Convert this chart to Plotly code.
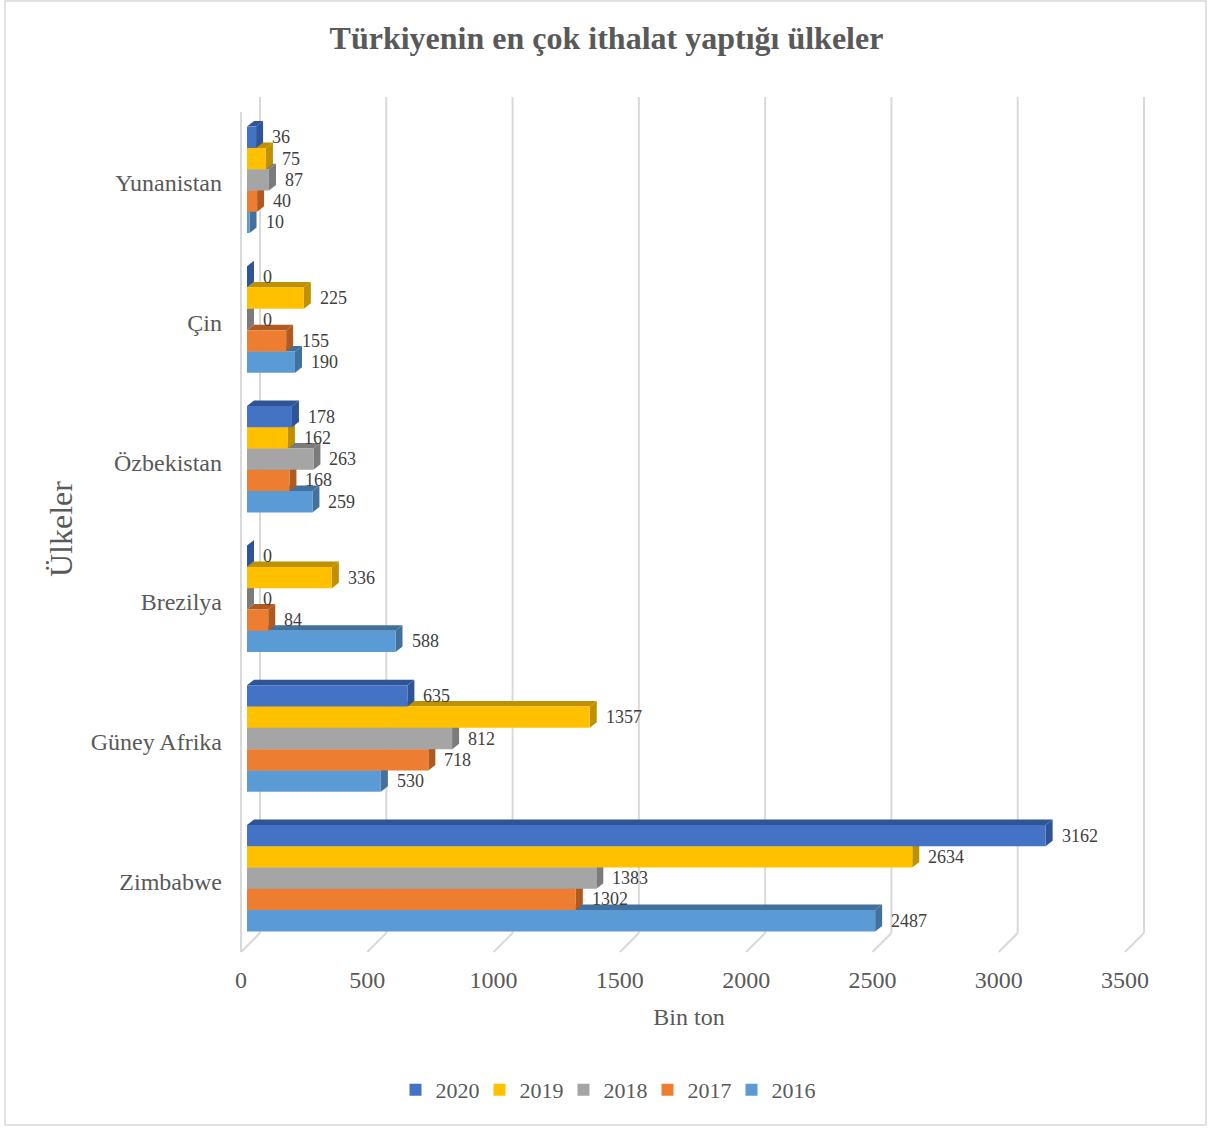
import plotly.graph_objects as go

# ---- data -----------------------------------------------------------------
countries = ["Zimbabwe", "Güney Afrika", "Brezilya", "Özbekistan", "Çin", "Yunanistan"]
years = ["2016", "2017", "2018", "2019", "2020"]
v2016 = [2487, 530, 588, 259, 190, 10]
v2017 = [1302, 718, 84, 168, 155, 40]
v2018 = [1383, 812, 0, 263, 0, 87]
v2019 = [2634, 1357, 336, 162, 225, 75]
v2020 = [3162, 635, 0, 178, 0, 36]
x_ticks = [0, 500, 1000, 1500, 2000, 2500, 3000, 3500]

series = [v2016, v2017, v2018, v2019, v2020]
front_colors = ["#5B9BD5", "#ED7D31", "#A5A5A5", "#FFC000", "#4472C4"]
shade_colors = ["#41719C", "#AE5A21", "#7B7B7B", "#BF9000", "#2F5597"]

# ---- geometry --------------------------------------------------------------
W, H = 1221, 1128
M_L, M_R, M_T, M_B = 247, 90, 110, 180
plot_w = W - M_L - M_R
plot_h = H - M_T - M_B
x_max = 3500
bargap = 0.238
n_series = len(series)
bar_w = (1 - bargap) / n_series
depth_px_x = 7          # 3D depth of bar faces, pixels to the right
depth_px_y = 5.5        # 3D depth of bar faces, pixels upward
depth_y = depth_px_y / (plot_h / len(countries))
depth_x = depth_px_x / (plot_w / x_max)

SERIF = "Liberation Serif, Times New Roman, serif"
TEXT = "#595959"
GRID = "#D9D9D9"

fig = go.Figure()
for k, (yr, vals) in enumerate(zip(years, series)):
    fig.add_trace(go.Bar(
        y=countries, x=vals, name=yr, orientation="h",
        marker=dict(color=front_colors[k], line=dict(width=0)),
        hoverinfo="x+name",
    ))

shapes = []
# back-wall gridlines with a short floor segment (paper refs keep them unclipped)
for t in x_ticks:
    path = "M 13,15 L 13,851 M 13,15 L -6,-4"
    if t == 0:
        path += " M -6,-4 L -6,836"
    shapes.append(dict(
        type="path", xref="paper", yref="paper",
        xsizemode="pixel", xanchor=t / x_max, ysizemode="pixel", yanchor=0,
        path=path, line=dict(color=GRID, width=2), layer="below",
    ))

annotations = []
for k, vals in enumerate(series):
    off = -(1 - bargap) / 2 + bar_w * (k + 0.5)
    for i, v in enumerate(vals):
        yc = i + off
        yb, yt = yc - bar_w / 2, yc + bar_w / 2
        # top face
        shapes.append(dict(
            type="path", xref="x", yref="y", layer="below",
            path=f"M 0,{yt} L {v},{yt} L {v + depth_x},{yt + depth_y} L {depth_x},{yt + depth_y} Z",
            fillcolor=shade_colors[k], line=dict(width=0),
        ))
        # side face
        shapes.append(dict(
            type="path", xref="x", yref="y", layer="below",
            xsizemode="pixel", xanchor=v,
            path=f"M 0,{yb} L {depth_px_x},{yb + depth_y} L {depth_px_x},{yt + depth_y} L 0,{yt} Z",
            fillcolor=shade_colors[k], line=dict(width=0),
        ))
        annotations.append(dict(
            x=v, y=yc, xref="x", yref="y", text=str(v), showarrow=False,
            xanchor="left", yanchor="middle", xshift=14,
            font=dict(family=SERIF, size=18, color="#404040"),
        ))

# outer chart border
shapes.append(dict(
    type="rect", xref="paper", yref="paper",
    x0=(5 - M_L) / plot_w, x1=(1206 - M_L) / plot_w,
    y0=1 - (1125 - M_T) / plot_h, y1=1 - (1 - M_T) / plot_h,
    line=dict(color=GRID, width=1.5), fillcolor="rgba(0,0,0,0)", layer="below",
))

fig.update_layout(
    width=W, height=H,
    margin=dict(l=M_L, r=M_R, t=M_T, b=M_B),
    paper_bgcolor="white", plot_bgcolor="white",
    barmode="group", bargap=bargap, bargroupgap=0,
    font=dict(family=SERIF, color=TEXT),
    title=dict(
        text="Türkiyenin en çok ithalat yaptığı ülkeler",
        font=dict(family=SERIF, size=32, color=TEXT, weight="bold"),
        xref="container", x=0.5 - 4 / W, xanchor="center",
        yref="container", y=1 - 38 / H, yanchor="middle",
    ),
    xaxis=dict(
        range=[0, x_max], tickvals=x_ticks, showgrid=False, zeroline=False,
        showline=False, ticks="", ticklabelshift=-6, ticklabelstandoff=15,
        tickfont=dict(family=SERIF, size=24, color=TEXT),
        title=dict(text="Bin ton", font=dict(family=SERIF, size=24, color=TEXT), standoff=16),
        automargin=False, fixedrange=True,
    ),
    yaxis=dict(
        type="category", categoryorder="array", categoryarray=countries,
        range=[-0.5, len(countries) - 0.5], showgrid=False, zeroline=False,
        showline=False, ticks="", ticklabelstandoff=24, ticklabelshift=3,
        tickfont=dict(family=SERIF, size=24, color=TEXT),
        title=dict(text="Ülkeler", font=dict(family=SERIF, size=32, color=TEXT), standoff=8),
        automargin=False, fixedrange=True,
    ),
    legend=dict(
        orientation="h", traceorder="reversed",
        xref="container", x=0.5 - 5 / W, xanchor="center",
        yref="container", y=1 - 1090 / H, yanchor="middle",
        font=dict(family=SERIF, size=22, color=TEXT),
        itemwidth=30, entrywidth=39, entrywidthmode="pixels",
    ),
    shapes=shapes, annotations=annotations,
)

fig.write_html("out.html")
